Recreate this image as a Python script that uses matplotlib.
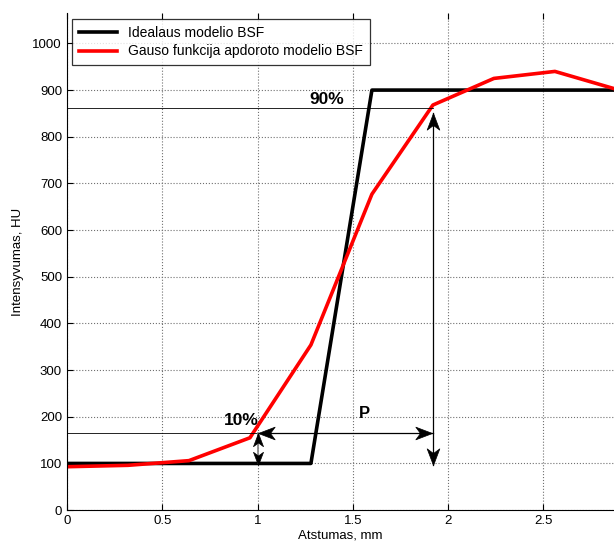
import matplotlib
matplotlib.use("Agg")
import matplotlib.pyplot as plt
from matplotlib.path import Path
from matplotlib.markers import MarkerStyle
from matplotlib.transforms import Affine2D
import numpy as np

plt.rcParams['font.family'] = ['Liberation Sans', 'DejaVu Sans']

# ideal edge spread function
ideal_x = [0, 1.28, 1.6, 2.88]
ideal_y = [100, 100, 900, 900]
# gaussian fit
gauss_x = [0, 0.32, 0.64, 0.96, 1.28, 1.6, 1.92, 2.24, 2.56, 2.88]
gauss_y = [93, 96, 106, 155, 354, 677, 868, 925, 940, 902]

lvl10 = 166
lvl90 = 862
x10 = 1.0
x90 = 1.92

fig = plt.figure(figsize=(6.14, 5.45), dpi=100)
ax = fig.add_axes([0.109, 0.064, 0.891, 0.912])

ax.plot(ideal_x, ideal_y, color='black', lw=2.6, label='Idealaus modelio BSF')
ax.plot(gauss_x, gauss_y, color='red', lw=2.6, label='Gauso funkcija apdoroto modelio BSF')

# 10% / 90% levels
ax.plot([0, x10], [lvl10, lvl10], color='black', lw=0.6)
ax.plot([0, x90], [lvl90, lvl90], color='black', lw=0.6)

# matlab-like swept arrow head, tip at origin, pointing right
head_path = Path([(0, 0), (-1, 0.38), (-0.72, 0), (-1, -0.38), (0, 0)],
                 [Path.MOVETO, Path.LINETO, Path.LINETO, Path.LINETO, Path.CLOSEPOLY])

def head(x, y, angle, ms=24):
    m = MarkerStyle(head_path, transform=Affine2D().rotate_deg(angle))
    ax.plot([x], [y], marker=m, ms=ms, color='black', mew=0.5, ls='none')

# P width arrow
ax.plot([x10, x90], [lvl10, lvl10], color='black', lw=0.9)
head(x10 + 0.005, lvl10, 180)
head(x90 - 0.005, lvl10, 0)
# vertical arrow at 90%
ax.plot([x90, x90], [97, lvl90 - 12], color='black', lw=0.9)
head(x90, lvl90 - 12, 90)
head(x90, 97, -90)
# small 10% arrow
ax.plot([x10, x10], [100, lvl10], color='gray', lw=1.2)
head(x10, lvl10, 90, ms=19)
head(x10, 97, -90, ms=19)

ax.text(1.455, 880, '90%', fontsize=12.5, fontweight='bold', ha='right', va='center')
ax.text(1.005, 192, '10%', fontsize=12.5, fontweight='bold', ha='right', va='center')
ax.text(1.56, 208, 'P', fontsize=12, fontweight='bold', ha='center', va='center')

ax.set_xlim(0, 2.87)
ax.set_ylim(0, 1065)
ax.set_xticks([0, 0.5, 1, 1.5, 2, 2.5])
ax.set_xticklabels(['0', '0.5', '1', '1.5', '2', '2.5'])
ax.set_yticks(np.arange(0, 1001, 100))
ax.tick_params(direction='in', labelsize=9.5, top=True, length=4)
ax.grid(True, linestyle=':', color='#707070', lw=0.8)
ax.spines['top'].set_visible(False)
ax.spines['right'].set_visible(False)

ax.set_xlabel('Atstumas, mm', fontsize=9.5, labelpad=2)
ax.set_ylabel('Intensyvumas, HU', fontsize=9.5, labelpad=6)

leg = ax.legend(loc='upper left', fontsize=10, fancybox=False, edgecolor='black',
                borderaxespad=0.4, handlelength=2.7, labelspacing=0.35,
                borderpad=0.5)
leg.get_frame().set_linewidth(0.9)

fig.savefig('out.png', dpi=100)
